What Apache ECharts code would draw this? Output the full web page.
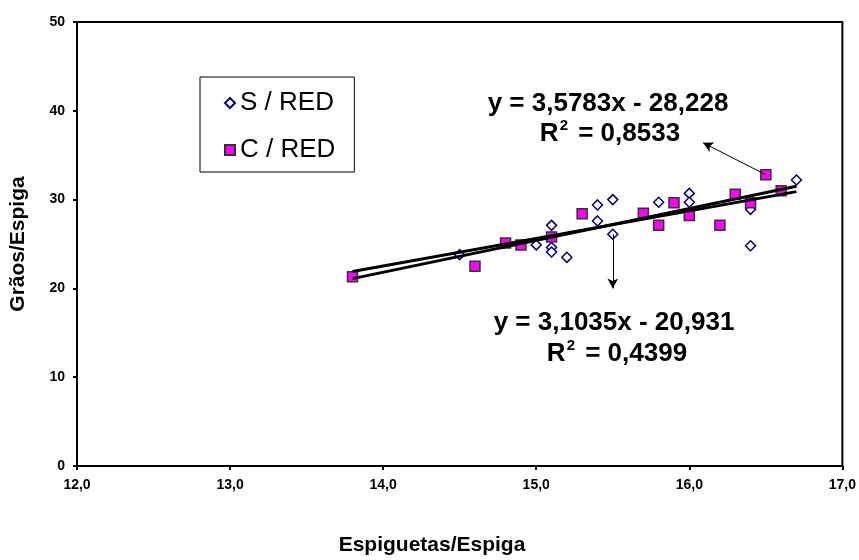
<!DOCTYPE html>
<html>
<head>
<meta charset="utf-8">
<script src="https://cdn.jsdelivr.net/npm/echarts@6/dist/echarts.min.js"></script>
<style>
  html, body { margin: 0; padding: 0; background: #fff; }
  #chart { width: 859px; height: 560px; }
</style>
</head>
<body>
<div id="chart"></div>
<script>
// S / RED (losangos)
const sX = [14.5, 15.0, 15.1, 15.1, 15.1, 15.2, 15.4, 15.4, 15.5, 15.5, 15.8, 16.0, 16.0, 16.4, 16.4, 16.7]
const sY = [23.8, 24.9, 27.1, 24.6, 24.1, 23.5, 29.4, 27.6, 30.0, 26.1, 29.7, 30.7, 29.7, 28.9, 24.8, 32.2]
// C / RED (quadrados)
const cX = [13.8, 14.6, 14.8, 14.9, 15.1, 15.3, 15.7, 15.8, 15.9, 16.0, 16.2, 16.3, 16.4, 16.5, 16.6]
const cY = [21.3, 22.5, 25.1, 24.9, 25.8, 28.4, 28.45, 27.1, 29.65, 28.2, 27.1, 30.6, 29.65, 32.8, 31.0]
// linhas de tendencia (pontos extremos)
const trendS = [[13.8, 21.9], [16.7, 30.9]]
const trendC = [[13.8, 21.1], [16.7, 31.5]]
// setas
const arrowC = [[16.5, 32.8], [16.09, 36.4]]
const arrowS = [[15.5, 26.1], [15.5, 20.0]]

const FONT = "'Liberation Sans', Arial, sans-serif"

const chart = echarts.init(document.getElementById('chart'))

const zip = (xs, ys) => xs.map((x, i) => [x, ys[i]])

function eqText(x, y, txt) {
  return {
    type: 'text', x: x, y: y, z: 10,
    style: {
      text: txt, align: 'center', verticalAlign: 'middle',
      font: 'bold 26px ' + FONT, fill: '#000'
    }
  }
}

function r2Text(x, y, val) {
  return {
    type: 'text', x: x, y: y, z: 10,
    style: {
      text: '{a|R}{s|2}{a| = ' + val + '}',
      align: 'center', verticalAlign: 'middle',
      fill: '#000',
      rich: {
        a: { font: 'bold 26px ' + FONT, fill: '#000' },
        s: { font: 'bold 15px ' + FONT, fill: '#000', padding: [0, 3, 17, 1] }
      }
    }
  }
}

const option = {
  backgroundColor: '#fff',
  animation: false,
  textStyle: { fontFamily: FONT },
  grid: {
    left: 77, right: 15, top: 22, bottom: 94,
    show: true, borderColor: '#000', borderWidth: 2
  },
  legend: {
    orient: 'vertical',
    left: 200,
    top: 77,
    data: ['S / RED', 'C / RED'],
    itemWidth: 10,
    itemHeight: 10,
    itemGap: 17,
    padding: [11, 19, 7, 24],
    borderColor: '#000',
    borderWidth: 1,
    textStyle: { fontSize: 26, color: '#000', lineHeight: 30, fontFamily: FONT }
  },
  xAxis: {
    type: 'value',
    min: 12, max: 17, interval: 1,
    splitLine: { show: false },
    axisLine: { lineStyle: { color: '#000', width: 2 } },
    axisTick: { lineStyle: { color: '#000', width: 2 }, length: 4 },
    axisLabel: {
      color: '#000', fontWeight: 'bold', fontSize: 14, margin: 12,
      formatter: v => v.toFixed(1).replace('.', ',')
    }
  },
  yAxis: {
    type: 'value',
    min: 0, max: 50, interval: 10,
    splitLine: { show: false },
    axisLine: { show: true, lineStyle: { color: '#000', width: 2 } },
    axisTick: { show: true, lineStyle: { color: '#000', width: 2 }, length: 4 },
    axisLabel: { color: '#000', fontWeight: 'bold', fontSize: 14, margin: 12 },
    name: 'Grãos/Espiga',
    nameLocation: 'middle',
    nameGap: 48,
    nameTextStyle: { color: '#000', fontWeight: 'bold', fontSize: 21 }
  },
  series: [
    {
      name: 'S / RED',
      type: 'scatter',
      symbol: 'diamond',
      symbolSize: 10,
      itemStyle: { color: '#fff', borderColor: '#000080', borderWidth: 1.5, opacity: 1 },
      data: zip(sX, sY),
      markLine: {
        silent: true,
        symbol: ['none', 'arrow'],
        symbolSize: [8, 10],
        label: { show: false },
        lineStyle: { color: '#000', width: 1, type: 'solid' },
        data: [[{ coord: arrowS[0] }, { coord: arrowS[1] }]]
      }
    },
    {
      name: 'C / RED',
      type: 'scatter',
      symbol: 'rect',
      symbolSize: 10,
      itemStyle: { color: '#ff00ff', borderColor: '#333', borderWidth: 1.5, opacity: 1 },
      data: zip(cX, cY),
      markLine: {
        silent: true,
        symbol: ['none', 'arrow'],
        symbolSize: [8, 10],
        label: { show: false },
        lineStyle: { color: '#000', width: 1, type: 'solid' },
        data: [[{ coord: arrowC[0] }, { coord: arrowC[1] }]]
      }
    },
    {
      name: 'trendS',
      type: 'line',
      symbol: 'none',
      z: 5,
      lineStyle: { color: '#000', width: 3 },
      data: trendS
    },
    {
      name: 'trendC',
      type: 'line',
      symbol: 'none',
      z: 5,
      lineStyle: { color: '#000', width: 3 },
      data: trendC
    }
  ],
  graphic: [
    eqText(608, 104, 'y = 3,5783x - 28,228'),
    r2Text(610, 134, '0,8533'),
    eqText(614, 323, 'y = 3,1035x - 20,931'),
    r2Text(617, 354, '0,4399'),
    {
      type: 'text', x: 432, y: 545, z: 10,
      style: {
        text: 'Espiguetas/Espiga', align: 'center', verticalAlign: 'middle',
        font: 'bold 21px ' + FONT, fill: '#000'
      }
    }
  ]
}

chart.setOption(option)
</script>
</body>
</html>
